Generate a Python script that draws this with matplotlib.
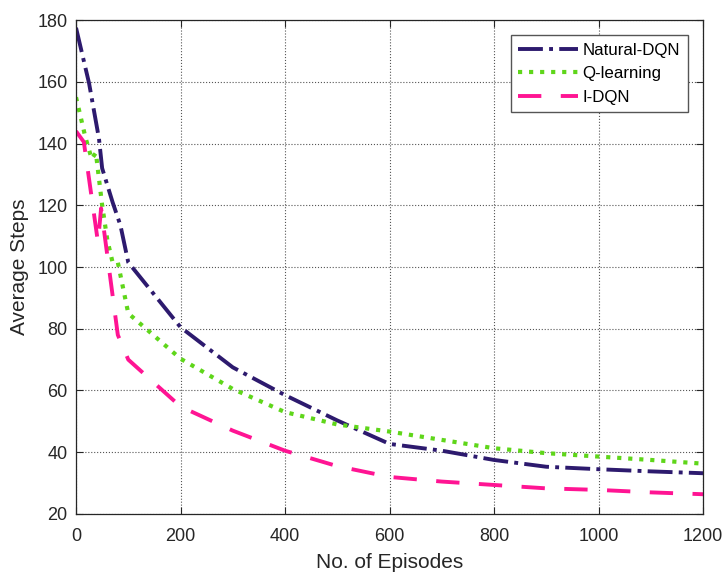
import matplotlib
matplotlib.use('Agg')
import matplotlib.pyplot as plt

plt.rcParams['font.family'] = ['Liberation Sans', 'DejaVu Sans']

# episode checkpoints and average steps for each method
natural_x = [0, 25, 44, 50, 70, 85, 100, 200, 300, 400, 500, 600, 700, 800,
             900, 1000, 1100, 1200]
natural_y = [177.5, 159.5, 141.5, 132, 121, 113.5, 101.5, 80.5, 67.5, 58.5,
             50.3, 42.7, 40.5, 37.5, 35.3, 34.5, 33.8, 33.2]

qlearn_x = [0, 18, 30, 38, 50, 60, 70, 80, 100, 200, 300, 400, 500, 600, 700,
            800, 900, 1000, 1100, 1200]
qlearn_y = [155, 142, 135, 137, 120, 108.7, 101.5, 101.5, 85, 70.3, 60.5, 53,
            49, 46.7, 44, 41.3, 39.7, 38.6, 37.5, 36.3]

idqn_x = [0, 15, 42, 48, 80, 100, 200, 300, 400, 500, 600, 700, 800, 900,
          1000, 1100, 1200]
idqn_y = [144, 140.5, 108, 119, 78, 70, 54.8, 47, 40.5, 35.5, 32, 30.5, 29.4,
          28.3, 27.8, 27, 26.4]

fig = plt.figure(figsize=(7.24, 5.73), dpi=100)
ax = fig.add_axes([0.105, 0.103, 0.866, 0.862])

ax.plot(natural_x, natural_y, linestyle='-.', color='#2d1a6e', linewidth=2.8,
        label='Natural-DQN')
ax.plot(qlearn_x, qlearn_y, linestyle=':', color='#5fd61a', linewidth=3.0,
        label='Q-learning')
ax.plot(idqn_x, idqn_y, linestyle='--', color='#ff1493', linewidth=2.8,
        dashes=(6, 5), label='I-DQN')

ax.set_xlim(0, 1200)
ax.set_ylim(20, 180)
ax.set_xticks(range(0, 1201, 200))
ax.set_yticks(range(20, 181, 20))
ax.grid(True, linestyle=':', color='#555555', linewidth=0.8)
ax.tick_params(direction='in', top=True, right=True, labelsize=13,
               colors='#262626', length=5)
ax.tick_params(axis='x', pad=10)
ax.tick_params(axis='y', pad=6)
for s in ax.spines.values():
    s.set_color('#262626')
    s.set_linewidth(0.9)

ax.set_xlabel('No. of Episodes', fontsize=15, color='#262626', labelpad=6)
ax.set_ylabel('Average Steps', fontsize=15, color='#262626', labelpad=6)

leg = ax.legend(loc='upper right', fontsize=12.2, fancybox=False,
                framealpha=1, edgecolor='#555555', handlelength=3.5,
                handletextpad=0.3, borderaxespad=0.9, labelspacing=0.5,
                borderpad=0.45)
leg.get_frame().set_linewidth(1.0)

fig.savefig('out.png', dpi=100)
